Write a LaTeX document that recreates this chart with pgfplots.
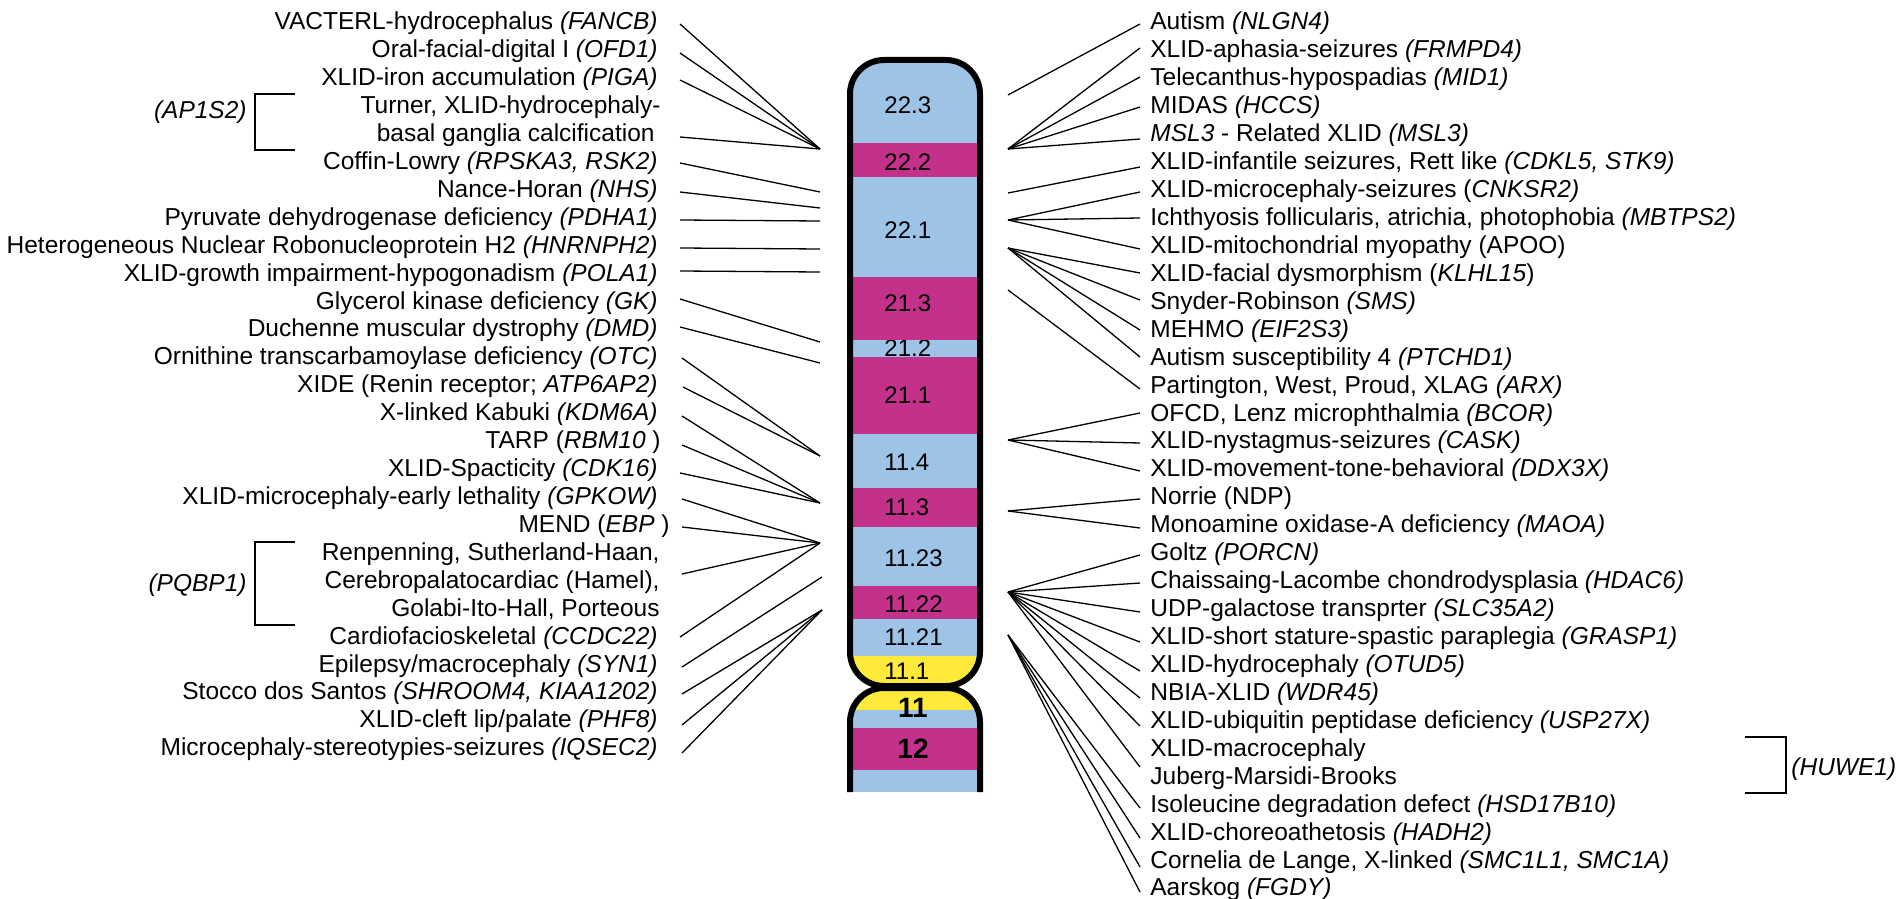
\documentclass[border=0pt]{standalone}
\usepackage{pgfplots}
\pgfplotsset{compat=1.18}
\usepackage{fontspec}
\setmainfont{Liberation Sans}
\definecolor{cblue}{HTML}{9DC3E6}
\definecolor{cmag}{HTML}{C4318A}
\definecolor{cyel}{HTML}{FFE93B}
\begin{document}
\begin{tikzpicture}[
  lab/.style={inner sep=0pt, font=\fontsize{12.25}{14}\selectfont},
  bl/.style={inner sep=0pt, font=\fontsize{12}{14}\selectfont, anchor=base west},
  bb/.style={inner sep=0pt, font=\fontsize{14}{16}\selectfont\bfseries, anchor=base},
]
\begin{axis}[
  width=951.5pt, height=449.5pt, scale only axis,
  xmin=0, xmax=1903, ymin=0, ymax=899, y dir=reverse,
  hide axis, clip=false,
  ln/.style={black, line width=0.65pt, no marks},
  bk/.style={black, line width=0.8pt, no marks},
]
% ---------- chromosome fills ----------
\addplot[fill=cblue, draw=none, rounded corners=17pt] coordinates {(915,420)(850,420)(850,60)(980,60)(980,420)(915,420)};
\addplot[fill=cyel, draw=none, rounded corners=17pt] coordinates {(915,600)(850,600)(850,686)(980,686)(980,600)(915,600)};
\node[bl] at (884,356.6) {21.2};
\addplot[fill=cmag, draw=none] coordinates {(850,143)(980,143)(980,177)(850,177)};
\addplot[fill=cmag, draw=none] coordinates {(850,277)(980,277)(980,340)(850,340)};
\addplot[fill=cmag, draw=none] coordinates {(850,357)(980,357)(980,434)(850,434)};
\addplot[fill=cblue, draw=none] coordinates {(850,434)(980,434)(980,488)(850,488)};
\addplot[fill=cmag, draw=none] coordinates {(850,488)(980,488)(980,527)(850,527)};
\addplot[fill=cblue, draw=none] coordinates {(850,527)(980,527)(980,586)(850,586)};
\addplot[fill=cmag, draw=none] coordinates {(850,586)(980,586)(980,619)(850,619)};
\addplot[fill=cblue, draw=none] coordinates {(850,619)(980,619)(980,656)(850,656)};
\addplot[fill=cyel, draw=none, rounded corners=17pt] coordinates {(915,745)(850,745)(850,688)(980,688)(980,745)(915,745)};
\addplot[fill=cblue, draw=none] coordinates {(850,710)(980,710)(980,728)(850,728)};
\addplot[fill=cmag, draw=none] coordinates {(850,728)(980,728)(980,770)(850,770)};
\addplot[fill=cblue, draw=none] coordinates {(850,770)(980,770)(980,792)(850,792)};
% ---------- outlines ----------
\addplot[black, line width=3pt, no marks, rounded corners=17pt, line join=round] coordinates {(915,686)(850,686)(850,60)(980,60)(980,686)(915,686)};
\addplot[black, line width=3pt, no marks, rounded corners=17pt, line join=round] coordinates {(850,792)(850,688)(980,688)(980,792)};
% ---------- band labels ----------
\node[bl] at (884,113.6) {22.3};
\node[bl] at (884,170.6) {22.2};
\node[bl] at (884,238.6) {22.1};
\node[bl] at (884,311.6) {21.3};
\node[bl] at (884,403.6) {21.1};
\node[bl] at (884,470.6) {11.4};
\node[bl] at (884,515.6) {11.3};
\node[bl] at (884,566.6) {11.23};
\node[bl] at (884,612.6) {11.22};
\node[bl] at (884,645.6) {11.21};
\node[bl] at (884,679.6) {11.1};
\node[bb] at (913,717) {11};
\node[bb] at (913,758) {12};
% ---------- left lines ----------
\addplot[ln] coordinates {(680,24)(820,149)};
\addplot[ln] coordinates {(680,53)(820,149)};
\addplot[ln] coordinates {(680,80)(820,149)};
\addplot[ln] coordinates {(680,137)(820,149)};
\addplot[ln] coordinates {(680,163)(820,192)};
\addplot[ln] coordinates {(680,192)(820,208)};
\addplot[ln] coordinates {(680,220)(820,221)};
\addplot[ln] coordinates {(680,248)(820,249)};
\addplot[ln] coordinates {(680,271)(820,272)};
\addplot[ln] coordinates {(680,299)(820,342)};
\addplot[ln] coordinates {(680,327)(820,363)};
\addplot[ln] coordinates {(682,358)(820,456)};
\addplot[ln] coordinates {(683,387)(820,456)};
\addplot[ln] coordinates {(682,416)(820,503)};
\addplot[ln] coordinates {(682,445)(820,503)};
\addplot[ln] coordinates {(680,473)(820,503)};
\addplot[ln] coordinates {(682,499)(820,543)};
\addplot[ln] coordinates {(682,527)(820,543)};
\addplot[ln] coordinates {(682,574)(820,543)};
\addplot[ln] coordinates {(680,637)(820,543)};
\addplot[ln] coordinates {(682,667)(822,577)};
\addplot[ln] coordinates {(682,694)(822,610)};
\addplot[ln] coordinates {(682,725)(822,610)};
\addplot[ln] coordinates {(682,753)(822,610)};
% ---------- right lines ----------
\addplot[ln] coordinates {(1008,95)(1140,24)};
\addplot[ln] coordinates {(1008,149)(1140,48)};
\addplot[ln] coordinates {(1008,149)(1140,77)};
\addplot[ln] coordinates {(1008,149)(1140,107)};
\addplot[ln] coordinates {(1008,149)(1140,139)};
\addplot[ln] coordinates {(1008,193)(1140,167)};
\addplot[ln] coordinates {(1008,220)(1140,192)};
\addplot[ln] coordinates {(1008,220)(1140,218)};
\addplot[ln] coordinates {(1008,220)(1140,249)};
\addplot[ln] coordinates {(1008,248)(1140,273)};
\addplot[ln] coordinates {(1008,248)(1140,300)};
\addplot[ln] coordinates {(1008,248)(1140,330)};
\addplot[ln] coordinates {(1008,248)(1140,357)};
\addplot[ln] coordinates {(1008,290)(1140,389)};
\addplot[ln] coordinates {(1008,440)(1140,413)};
\addplot[ln] coordinates {(1008,440)(1140,443)};
\addplot[ln] coordinates {(1008,440)(1140,471)};
\addplot[ln] coordinates {(1008,511)(1140,499)};
\addplot[ln] coordinates {(1008,511)(1140,528)};
\addplot[ln] coordinates {(1008,592)(1140,555)};
\addplot[ln] coordinates {(1008,592)(1140,583)};
\addplot[ln] coordinates {(1008,592)(1140,612)};
\addplot[ln] coordinates {(1008,592)(1140,642)};
\addplot[ln] coordinates {(1008,592)(1140,671)};
\addplot[ln] coordinates {(1008,592)(1140,698)};
\addplot[ln] coordinates {(1008,592)(1140,726)};
\addplot[ln] coordinates {(1008,592)(1140,767)};
\addplot[ln] coordinates {(1008,635)(1140,808)};
\addplot[ln] coordinates {(1008,635)(1140,838)};
\addplot[ln] coordinates {(1008,635)(1140,867)};
\addplot[ln] coordinates {(1008,635)(1140,892)};
% ---------- brackets ----------
\addplot[bk] coordinates {(295,94)(255,94)(255,150)(295,150)};
\addplot[bk] coordinates {(295,542)(255,542)(255,625)(295,625)};
\addplot[bk] coordinates {(1745,737)(1786,737)(1786,793)(1745,793)};
\node[lab, anchor=base east] at (247,118.8) {\textit{(AP1S2)}};
\node[lab, anchor=base east] at (247,591.8) {\textit{(PQBP1)}};
\node[lab, anchor=base west] at (1791,775.8) {\textit{(HUWE1)}};
% ---------- left labels ----------
\node[lab, anchor=base east] at (658,29.8) {VACTERL-hydrocephalus \textit{(FANCB)}};
\node[lab, anchor=base east] at (658,57.7) {Oral-facial-digital I \textit{(OFD1)}};
\node[lab, anchor=base east] at (658,85.6) {XLID-iron accumulation \textit{(PIGA)}};
\node[lab, anchor=base east] at (661,113.6) {Turner, XLID-hydrocephaly-};
\node[lab, anchor=base east] at (655,141.5) {basal ganglia calcification};
\node[lab, anchor=base east] at (658,169.4) {Coffin-Lowry \textit{(RPSKA3, RSK2)}};
\node[lab, anchor=base east] at (658,197.3) {Nance-Horan \textit{(NHS)}};
\node[lab, anchor=base east] at (658,225.2) {Pyruvate dehydrogenase deficiency \textit{(PDHA1)}};
\node[lab, anchor=base east] at (658,253.2) {Heterogeneous Nuclear Robonucleoprotein H2 \textit{(HNRNPH2)}};
\node[lab, anchor=base east] at (658,281.1) {XLID-growth impairment-hypogonadism \textit{(POLA1)}};
\node[lab, anchor=base east] at (658,309.0) {Glycerol kinase deficiency \textit{(GK)}};
\node[lab, anchor=base east] at (658,336.9) {Duchenne muscular dystrophy \textit{(DMD)}};
\node[lab, anchor=base east] at (658,364.8) {Ornithine transcarbamoylase deficiency \textit{(OTC)}};
\node[lab, anchor=base east] at (658,392.8) {XIDE (Renin receptor; \textit{ATP6AP2)}};
\node[lab, anchor=base east] at (658,420.7) {X-linked Kabuki \textit{(KDM6A)}};
\node[lab, anchor=base east] at (661,448.6) {TARP (\textit{RBM10} )};
\node[lab, anchor=base east] at (658,476.5) {XLID-Spacticity \textit{(CDK16)}};
\node[lab, anchor=base east] at (658,504.4) {XLID-microcephaly-early lethality \textit{(GPKOW)}};
\node[lab, anchor=base east] at (670,532.4) {MEND (\textit{EBP} )};
\node[lab, anchor=base east] at (660,560.3) {Renpenning, Sutherland-Haan,};
\node[lab, anchor=base east] at (660,588.2) {Cerebropalatocardiac (Hamel),};
\node[lab, anchor=base east] at (660,616.1) {Golabi-Ito-Hall, Porteous};
\node[lab, anchor=base east] at (658,644.0) {Cardiofacioskeletal \textit{(CCDC22)}};
\node[lab, anchor=base east] at (658,672.0) {Epilepsy/macrocephaly \textit{(SYN1)}};
\node[lab, anchor=base east] at (658,699.9) {Stocco dos Santos \textit{(SHROOM4, KIAA1202)}};
\node[lab, anchor=base east] at (658,727.8) {XLID-cleft lip/palate \textit{(PHF8)}};
\node[lab, anchor=base east] at (658,755.7) {Microcephaly-stereotypies-seizures \textit{(IQSEC2)}};
% ---------- right labels ----------
\node[lab, anchor=base west] at (1150,29.8) {Autism \textit{(NLGN4)}};
\node[lab, anchor=base west] at (1150,57.7) {XLID-aphasia-seizures \textit{(FRMPD4)}};
\node[lab, anchor=base west] at (1150,85.7) {Telecanthus-hypospadias \textit{(MID1)}};
\node[lab, anchor=base west] at (1150,113.6) {MIDAS \textit{(HCCS)}};
\node[lab, anchor=base west] at (1150,141.6) {\textit{MSL3} - Related XLID \textit{(MSL3)}};
\node[lab, anchor=base west] at (1150,169.5) {XLID-infantile seizures, Rett like \textit{(CDKL5, STK9)}};
\node[lab, anchor=base west] at (1150,197.4) {XLID-microcephaly-seizures (\textit{CNKSR2)}};
\node[lab, anchor=base west] at (1150,225.4) {Ichthyosis follicularis, atrichia, photophobia \textit{(MBTPS2)}};
\node[lab, anchor=base west] at (1150,253.3) {XLID-mitochondrial myopathy (APOO)};
\node[lab, anchor=base west] at (1150,281.3) {XLID-facial dysmorphism (\textit{KLHL15})};
\node[lab, anchor=base west] at (1150,309.2) {Snyder-Robinson \textit{(SMS)}};
\node[lab, anchor=base west] at (1150,337.1) {MEHMO \textit{(EIF2S3)}};
\node[lab, anchor=base west] at (1150,365.1) {Autism susceptibility 4 \textit{(PTCHD1)}};
\node[lab, anchor=base west] at (1150,393.0) {Partington, West, Proud, XLAG \textit{(ARX)}};
\node[lab, anchor=base west] at (1150,421.0) {OFCD, Lenz microphthalmia \textit{(BCOR)}};
\node[lab, anchor=base west] at (1150,448.9) {XLID-nystagmus-seizures \textit{(CASK)}};
\node[lab, anchor=base west] at (1150,476.8) {XLID-movement-tone-behavioral \textit{(DDX3X)}};
\node[lab, anchor=base west] at (1150,504.8) {Norrie (NDP)};
\node[lab, anchor=base west] at (1150,532.7) {Monoamine oxidase-A deficiency \textit{(MAOA)}};
\node[lab, anchor=base west] at (1150,560.7) {Goltz \textit{(PORCN)}};
\node[lab, anchor=base west] at (1150,588.6) {Chaissaing-Lacombe chondrodysplasia \textit{(HDAC6)}};
\node[lab, anchor=base west] at (1150,616.5) {UDP-galactose transprter \textit{(SLC35A2)}};
\node[lab, anchor=base west] at (1150,644.5) {XLID-short stature-spastic paraplegia \textit{(GRASP1)}};
\node[lab, anchor=base west] at (1150,672.4) {XLID-hydrocephaly \textit{(OTUD5)}};
\node[lab, anchor=base west] at (1150,700.4) {NBIA-XLID \textit{(WDR45)}};
\node[lab, anchor=base west] at (1150,728.3) {XLID-ubiquitin peptidase deficiency \textit{(USP27X)}};
\node[lab, anchor=base west] at (1150,756.2) {XLID-macrocephaly};
\node[lab, anchor=base west] at (1150,784.2) {Juberg-Marsidi-Brooks};
\node[lab, anchor=base west] at (1150,812.1) {Isoleucine degradation defect \textit{(HSD17B10)}};
\node[lab, anchor=base west] at (1150,840.1) {XLID-choreoathetosis \textit{(HADH2)}};
\node[lab, anchor=base west] at (1150,868.0) {Cornelia de Lange, X-linked \textit{(SMC1L1, SMC1A)}};
\node[lab, anchor=base west] at (1150,895.9) {Aarskog \textit{(FGDY)}};
\end{axis}
\pgfresetboundingbox
\path[use as bounding box] (current axis.south west) rectangle (current axis.north east);
\end{tikzpicture}
\end{document}
